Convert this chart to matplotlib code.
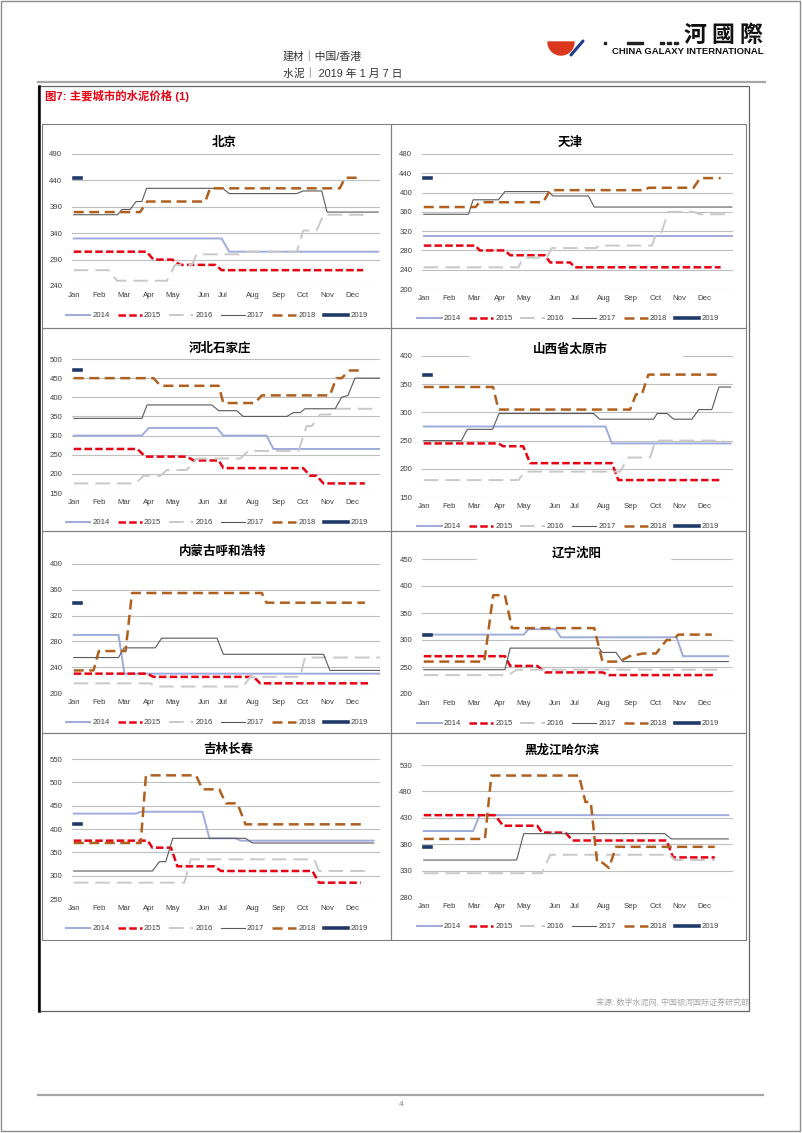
import matplotlib
matplotlib.use("Agg")
import numpy as np
import matplotlib.pyplot as plt
from matplotlib.patches import Rectangle, Wedge
from matplotlib.lines import Line2D

plt.rcParams['font.family'] = ['Liberation Sans', 'Noto Sans CJK SC']

W, H = 802, 1133

# ---------------------------
# Data: (week, price) breakpoints
# ---------------------------
MONTHS = ["Jan", "Feb", "Mar", "Apr", "May", "Jun", "Jul", "Aug", "Sep", "Oct", "Nov", "Dec"]
MONTH_POS = [0, 4.3, 8.6, 12.9, 17.0, 22.3, 25.6, 30.7, 35.1, 39.4, 43.5, 47.8]
YEARS = ["2014", "2015", "2016", "2017", "2018", "2019"]

# 北京
bj14 = [(0, 330), (25.4, 330), (26.7, 305), (52.3, 305)]
bj15 = [(0, 305), (12.5, 305), (13.7, 290), (16.9, 290), (18.3, 280), (24.3, 280), (25.4, 270), (49.7, 270)]
bj16 = [(0, 270), (6, 270), (7.4, 250), (16, 250), (17.4, 280), (20.3, 280), (21.1, 300), (29.1, 300),
        (29.8, 305), (38.3, 305), (39.4, 345), (41.7, 345), (42.9, 375), (50.9, 375)]
bj17 = [(0, 375), (7.5, 375), (8.3, 385), (9.7, 385), (10.7, 400), (11.7, 400), (12.5, 425), (25.6, 425),
        (26.7, 415), (38.3, 415), (39.4, 420), (42.6, 420), (43.5, 380), (52.3, 380)]
bj18 = [(0, 380), (11.4, 380), (12.6, 400), (22.6, 400), (23.4, 425), (45.7, 425), (46.6, 445), (49.4, 445)]
bj19 = [(0, 445), (1.2, 445)]

# 天津
tj14 = [(0, 310), (52.4, 310)]
tj15 = [(0, 290), (8.8, 290), (9.5, 280), (13.8, 280), (14.7, 270), (20.6, 270), (21.5, 255), (24.9, 255),
        (25.7, 245), (50.5, 245)]
tj16 = [(0, 245), (16.1, 245), (16.9, 265), (20.9, 265), (21.8, 285), (29.4, 285), (29.7, 290), (38.8, 290),
        (39.4, 310), (40.2, 310), (41.6, 360), (45.9, 360), (47, 355), (51.3, 355)]
tj17 = [(0, 355), (7.6, 355), (8.4, 385), (12.7, 385), (13.8, 402), (21.2, 402), (22, 393), (28, 393),
        (29, 370), (52.4, 370)]
tj18 = [(0, 370), (8.8, 370), (9.5, 380), (20.3, 380), (21.5, 405), (37.7, 405), (38.2, 410), (45.9, 410),
        (47, 430), (50.5, 430)]
tj19 = [(0, 430), (1.2, 430)]

# 河北石家庄
sjz14 = [(0, 300), (11.7, 300), (12.9, 320), (24.6, 320), (25.7, 300), (33.1, 300), (34.3, 265), (52.6, 265)]
sjz15 = [(0, 265), (10.9, 265), (12.3, 245), (19.4, 245), (20.6, 235), (24.9, 235), (25.7, 215), (39.4, 215),
         (40.6, 195), (41.7, 195), (42.9, 175), (50, 175)]
sjz16 = [(0, 175), (10.6, 175), (12, 195), (14.9, 195), (16, 210), (19.4, 210), (21.1, 240), (28.6, 240),
         (30, 260), (38.6, 260), (40, 325), (40.9, 325), (42.3, 355), (44, 355), (45.1, 370), (51.4, 370)]
sjz17 = [(0, 345), (11.7, 345), (12.6, 380), (23.7, 380), (24.9, 365), (28, 365), (29.1, 350), (36.6, 350),
         (37.7, 360), (38.9, 360), (39.7, 370), (44.9, 370), (46, 400), (47.1, 405), (48.3, 450), (52.6, 450)]
sjz18 = [(0, 450), (13.7, 450), (14.9, 430), (24.9, 430), (25.7, 385), (31.1, 385), (32.3, 405), (44, 405),
         (45.1, 450), (46, 450), (47.4, 470), (49.4, 470)]
sjz19 = [(0, 470), (1.3, 470)]

# 山西省太原市
ty14 = [(0, 275), (30.9, 275), (32, 245), (52.2, 245)]
ty15 = [(0, 245), (12.7, 245), (13.5, 240), (16.9, 240), (18.1, 210), (32, 210), (33.1, 180), (50.5, 180)]
ty16 = [(0, 180), (16.1, 180), (17.2, 195), (33.4, 195), (34.8, 220), (38.5, 220), (39.4, 250), (51, 250)]
ty17 = [(0, 250), (6.4, 250), (7.4, 270), (11.7, 270), (12.8, 298), (28.9, 298), (29.9, 288), (39.1, 288),
        (39.7, 298), (41.4, 298), (42.5, 288), (45.6, 288), (46.8, 305), (49, 305), (50.2, 345), (52.2, 345)]
ty18 = [(0, 345), (11.8, 345), (12.7, 305), (35.1, 305), (36.1, 332), (37.1, 332), (38.2, 367), (50.2, 367)]
ty19 = [(0, 367), (1.2, 367)]

# 内蒙古呼和浩特
hh14 = [(0, 290), (7.7, 290), (8.7, 230), (52.6, 230)]
hh15 = [(0, 230), (12.6, 230), (13.7, 225), (30.9, 225), (32, 215), (50.6, 215)]
hh16 = [(0, 215), (13.1, 215), (14, 210), (29.1, 210), (30.3, 225), (38.9, 225), (39.7, 255), (52.6, 255)]
hh17 = [(0, 255), (7.7, 255), (8.6, 270), (14, 270), (15.1, 285), (24.6, 285), (25.7, 260), (42.9, 260),
        (44, 235), (52.6, 235)]
hh18 = [(0, 235), (3.4, 235), (4.3, 265), (8.9, 265), (10, 355), (32.3, 355), (33.1, 340), (50, 340)]
hh19 = [(0, 340), (1.2, 340)]

# 辽宁沈阳
sy14 = [(0, 310), (17, 310), (17.8, 320), (22.4, 320), (23.3, 305), (43, 305), (44.1, 270), (51.8, 270)]
sy15 = [(0, 270), (13.8, 270), (14.7, 252), (19.3, 252), (20.7, 240), (30.4, 240), (31.5, 235), (49.5, 235)]
sy16 = [(0, 235), (14.4, 235), (15.8, 245), (51, 245)]
sy17 = [(0, 245), (13.8, 245), (14.7, 285), (29.8, 285), (30.4, 277), (32.7, 277), (33.8, 260), (51.8, 260)]
sy18 = [(0, 260), (10.3, 260), (11.8, 383), (13.8, 383), (15, 322), (29, 322), (30.4, 260), (33.3, 260),
        (35, 270), (37.3, 275), (39.5, 275), (41.3, 300), (42.4, 300), (43.3, 310), (49, 310)]
sy19 = [(0, 310), (1.2, 310)]

# 吉林长春
cc14 = [(0, 433), (10.7, 433), (11.5, 437), (22.1, 437), (23.3, 380), (27.8, 380), (28.7, 375), (51.5, 375)]
cc15 = [(0, 375), (12.7, 375), (13.5, 360), (16.7, 360), (17.8, 320), (24.1, 320), (25.3, 310), (41, 310),
        (42.1, 285), (49.3, 285)]
cc16 = [(0, 285), (19, 285), (20.1, 335), (41.3, 335), (42.1, 310), (50.7, 310)]
cc17 = [(0, 310), (13.5, 310), (14.7, 330), (15.8, 330), (17, 380), (29.5, 380), (30.7, 370), (51.5, 370)]
cc18 = [(0, 370), (11.5, 370), (12.4, 515), (21, 515), (22.1, 485), (25, 485), (26.1, 455), (28.1, 455),
        (29.5, 410), (49.3, 410)]
cc19 = [(0, 410), (1.2, 410)]

# 黑龙江哈尔滨
hb14 = [(0, 405), (8.4, 405), (9.5, 435), (51.8, 435)]
hb15 = [(0, 435), (12.1, 435), (13.5, 415), (19.3, 415), (20.1, 402), (24.1, 402), (25.3, 387), (41.3, 387),
        (42.4, 355), (49.5, 355)]
hb16 = [(0, 325), (20.1, 325), (21.5, 360), (41.8, 360), (42.7, 350), (49.5, 350)]
hb17 = [(0, 350), (15.8, 350), (17, 400), (41, 400), (42.1, 390), (51.8, 390)]
hb18 = [(0, 390), (10.4, 390), (11.5, 510), (26.4, 510), (27.5, 460), (28.4, 460), (29.5, 345), (30.4, 345),
        (31.5, 335), (32.7, 375), (49.5, 375)]
hb19 = [(0, 375), (1.2, 375)]

# ---------------------------
# Layout (pixels) & styles
# ---------------------------
# title, series, (ymin, ymax, step), axes box px (x0, y0, x1, y1), title centre px, gap in top gridline
PANELS = [
    ("北京", [bj14, bj15, bj16, bj17, bj18, bj19], (240, 490, 50), (72, 154, 380, 286), (224, 143), None),
    ("天津", [tj14, tj15, tj16, tj17, tj18, tj19], (200, 480, 40), (422, 154, 733, 289), (570, 142), None),
    ("河北石家庄", [sjz14, sjz15, sjz16, sjz17, sjz18, sjz19], (150, 500, 50), (72, 359, 380, 493), (220, 348), None),
    ("山西省太原市", [ty14, ty15, ty16, ty17, ty18, ty19], (150, 400, 50), (422, 356, 733, 497), (570, 349), (470, 682)),
    ("内蒙古呼和浩特", [hh14, hh15, hh16, hh17, hh18, hh19], (200, 400, 40), (72, 564, 380, 693), (223, 552), None),
    ("辽宁沈阳", [sy14, sy15, sy16, sy17, sy18, sy19], (200, 450, 50), (422, 559, 733, 694), (577, 553), (477, 670)),
    ("吉林长春", [cc14, cc15, cc16, cc17, cc18, cc19], (250, 550, 50), (72, 759, 380, 899), (228, 749), None),
    ("黑龙江哈尔滨", [hb14, hb15, hb16, hb17, hb18, hb19], (280, 530, 50), (422, 765, 733, 897), (562, 750), None),
]
PANEL_COLS = [(42, 391), (391, 746)]
PANEL_ROWS = [(124, 328), (328, 531), (531, 733), (733, 940)]

STYLES = [
    dict(color='#9DABDD', lw=1.4, ls='-'),
    dict(color='#E60012', lw=1.8, ls=(0, (3.0, 1.3))),
    dict(color='#C8C8C8', lw=1.4, ls=(0, (7.5, 3.6))),
    dict(color='#595959', lw=0.8, ls='-'),
    dict(color='#B0601E', lw=1.8, ls=(0, (4.0, 2.2))),
    dict(color='#1F3A68', lw=2.6, ls='-'),
]

TXT = '#404040'


def fx(x):
    return x / W


def fy(y):
    return 1 - y / H


def hline(fig, x0, x1, y, **kw):
    fig.add_artist(Line2D([fx(x0), fx(x1)], [fy(y), fy(y)], transform=fig.transFigure, **kw))


def box(fig, x0, y0, x1, y1, **kw):
    fig.add_artist(Rectangle((fx(x0), fy(y1)), (x1 - x0) / W, (y1 - y0) / H,
                             transform=fig.transFigure, fill=False, **kw))


fig = plt.figure(figsize=(W / 100, H / 100), dpi=100)
fig.patch.set_facecolor('white')

# ---------------------------
# Page furniture
# ---------------------------
box(fig, 1, 1, 800, 1131, ec='#8C8C8C', lw=1.0)
hline(fig, 38, 765, 82, color='#A6A6A6', lw=1.6)
hline(fig, 38, 763, 1095, color='#A6A6A6', lw=1.6)
box(fig, 38, 86, 749, 1011, ec='#666666', lw=0.9)
fig.add_artist(Line2D([fx(38.5), fx(38.5)], [fy(86), fy(1011)], transform=fig.transFigure, color='black', lw=1.8))

fig.text(fx(283), fy(57), "建材｜中国/香港", fontsize=7.8, color='#333333', va='center', ha='left')
fig.text(fx(283), fy(73), "水泥｜ 2019 年 1 月 7 日", fontsize=7.8, color='#333333', va='center', ha='left')
fig.text(fx(45), fy(96), "图7: 主要城市的水泥价格 (1)", fontsize=8.2, color='#E60012', fontweight='bold',
         va='center', ha='left')
fig.text(fx(749), fy(1003), "来源: 数字水泥网, 中国银河国际证券研究部", fontsize=5.8, color='#A6A6A6',
         va='center', ha='right')
fig.text(fx(401), fy(1104), "4", fontsize=6, color='#7F7F7F', va='center', ha='center')

# logo
for ch, cx in zip("河國際", [695, 723, 751]):
    fig.text(fx(cx), fy(35), ch, fontsize=16.5, fontweight='bold', color='#111111', ha='center', va='center',
             family=['Noto Sans CJK TC'])
fig.text(fx(763), fy(52), "CHINA GALAXY INTERNATIONAL", fontsize=6.8, fontweight='bold', color='#111111',
         ha='right', va='center')
lax = fig.add_axes([fx(540), fy(60), 50 / W, 25 / H])
lax.set_xlim(540, 590)
lax.set_ylim(H - 60, H - 35)
lax.set_aspect('equal', adjustable='datalim')
lax.axis('off')
lax.add_patch(Wedge((561, H - 42), 13, 180, 360, color='#D9381E'))
lax.plot([571, 583], [H - 55, H - 41], color='#1F3C88', lw=2.2, solid_capstyle='round')
fig.add_artist(Rectangle((fx(604), fy(43.5)), 2 / W, 2 / H, transform=fig.transFigure, color='#222222'))
fig.add_artist(Rectangle((fx(627), fy(43.5)), 16 / W, 2 / H, transform=fig.transFigure, color='#222222'))
for dx in [660, 667, 674]:
    fig.add_artist(Rectangle((fx(dx), fy(43.5)), 4 / W, 2 / H, transform=fig.transFigure, color='#222222'))

# panel borders
for r0, r1 in PANEL_ROWS:
    for c0, c1 in PANEL_COLS:
        box(fig, c0, r0, c1, r1, ec='#7F7F7F', lw=0.8)

# ---------------------------
# Charts
# ---------------------------
for title, series, (ylo, yhi, ystep), (x0, y0, x1, y1), (tx, ty), gap in PANELS:
    ax = fig.add_axes([fx(x0), fy(y1), (x1 - x0) / W, (y1 - y0) / H])
    ax.set_facecolor('none')
    for year, pts, st in zip(YEARS, series, STYLES):
        wk, val = zip(*pts)
        ax.plot(wk, val, color=st['color'], lw=st['lw'], linestyle=st['ls'], label=year,
                solid_joinstyle='miter', dash_capstyle='butt')
    ax.set_xlim(-0.3, 52.6)
    ax.set_ylim(ylo, yhi)
    ax.set_yticks(np.arange(ylo, yhi + 1, ystep))
    ax.set_xticks(MONTH_POS)
    ax.set_xticklabels(MONTHS)
    ax.tick_params(axis='both', length=0, labelsize=5.6, labelcolor=TXT)
    ax.tick_params(axis='y', pad=7)
    ax.tick_params(axis='x', pad=4)
    ax.yaxis.grid(True, color='#BFBFBF', lw=0.8)
    ax.set_axisbelow(True)
    for sp in ax.spines.values():
        sp.set_visible(False)
    if gap:
        g0 = (gap[0] - x0) / (x1 - x0)
        g1 = (gap[1] - x0) / (x1 - x0)
        ax.add_patch(Rectangle((g0, 0.985), g1 - g0, 0.03, transform=ax.transAxes, color='white',
                               zorder=1, clip_on=False))
    leg = ax.legend(loc='center', bbox_to_anchor=(0.47, -29.5 / (y1 - y0)), ncol=6, frameon=False,
                    fontsize=5.6, handlelength=3.1, handletextpad=0.3, columnspacing=1.0, borderaxespad=0)
    for t in leg.get_texts():
        t.set_color(TXT)
    fig.text(fx(tx), fy(ty), title, fontsize=9, fontweight='bold', color='black', ha='center', va='center',
             family=['Noto Sans CJK SC'])

fig.savefig("out.png", dpi=100)
